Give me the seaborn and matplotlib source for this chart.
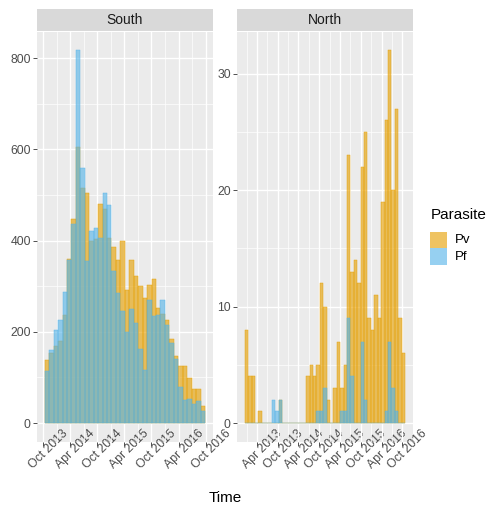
import numpy as np
import pandas as pd
import matplotlib
matplotlib.use("Agg")
import matplotlib.pyplot as plt
import matplotlib.dates as mdates
from matplotlib.colors import to_rgba
from matplotlib.patches import Rectangle
from matplotlib.transforms import ScaledTranslation
import seaborn as sns

# ---------------- data (30-day bins) ----------------
bin_days = 30
south_start = "2013-10-12"
north_start = "2012-12-14"

south_pv = [138, 153, 170, 180, 236, 360, 448, 606, 516, 505, 398, 404, 481, 470, 406, 386, 358, 399,
            291, 358, 323, 300, 275, 302, 315, 253, 238, 227, 185, 147, 125, 125, 98, 74, 74, 38]
south_pf = [114, 160, 203, 227, 288, 358, 437, 817, 560, 355, 420, 428, 406, 505, 479, 333, 284, 245,
            199, 249, 220, 163, 116, 269, 235, 236, 270, 214, 175, 140, 80, 50, 52, 42, 49, 26]

north_pv = [8, 4, 4, 0, 1, 0, 0, 0, 0, 0, 2, 0, 0, 0, 0, 0, 0, 0,
            4, 5, 4, 5, 12, 10, 2, 0, 3, 7, 3, 5, 23, 13, 14, 12, 22, 25, 9, 8, 11, 9, 19, 26, 32, 20, 27, 9, 6]
north_pf = [0, 0, 0, 0, 0, 0, 0, 0, 2, 1, 2, 0, 0, 0, 0, 0, 0, 0,
            0, 0, 0, 1, 1, 3, 0, 0, 0, 0, 1, 1, 9, 4, 0, 0, 7, 2, 0, 0, 0, 0, 0, 1, 7, 3, 1, 0, 0]

south_xticks = ["2013-10-01", "2014-04-01", "2014-10-01", "2015-04-01", "2015-10-01", "2016-04-01", "2016-10-01"]
north_xticks = ["2013-04-01", "2013-10-01", "2014-04-01", "2014-10-01", "2015-04-01", "2015-10-01",
                "2016-04-01", "2016-10-01"]
south_xminor = ["2014-01-01", "2014-07-01", "2015-01-01", "2015-07-01", "2016-01-01", "2016-07-01"]
north_xminor = ["2013-01-01", "2013-07-01", "2014-01-01", "2014-07-01", "2015-01-01", "2015-07-01",
                "2016-01-01", "2016-07-01", "2017-01-01"]
south_yticks = [0, 200, 400, 600, 800]
north_yticks = [0, 10, 20, 30]

parasites = ["Pv", "Pf"]
colors = {"Pv": "#E69F00", "Pf": "#56B4E9"}
ALPHA = 0.62

plt.rcParams["font.family"] = ["Liberation Sans", "DejaVu Sans"]

W, H = 488, 508
fig = plt.figure(figsize=(W / 100, H / 100), dpi=100)


def fx(px):
    return px / W


def fy(py):
    return 1 - py / H


panel_top, panel_bot = 31.7, 441.7
strip_top = 9.0


def make_df(start, pv, pf):
    starts = pd.date_range(start, periods=len(pv), freq=f"{bin_days}D")
    t0 = mdates.date2num(starts[0])
    edges = t0 + bin_days * np.arange(len(pv) + 1)
    centers = (edges[:-1] + edges[1:]) / 2
    frames = []
    for p, vals in (("Pv", pv), ("Pf", pf)):
        frames.append(pd.DataFrame({"Time": centers, "count": vals, "Parasite": p}))
    return pd.concat(frames, ignore_index=True), edges


panels = [
    ("South", 36.7, 213.0, south_start, south_pv, south_pf, south_xticks, south_xminor, south_yticks, 100),
    ("North", 236.7, 413.0, north_start, north_pv, north_pf, north_xticks, north_xminor, north_yticks, 5),
]

shift = ScaledTranslation(5.5 / 100, 0, fig.dpi_scale_trans)

for name, left, right, start, pv, pf, xt, xm, yt, ymin_step in panels:
    df, edges = make_df(start, pv, pf)
    ax = fig.add_axes([fx(left), fy(panel_bot), (right - left) / W, (panel_bot - panel_top) / H])
    ax.set_facecolor("#EBEBEB")
    for s in ax.spines.values():
        s.set_visible(False)
    for p in parasites:
        sub = df[df["Parasite"] == p]
        sns.histplot(data=sub, x="Time", weights="count", bins=[float(e) for e in edges], ax=ax,
                     facecolor=to_rgba(colors[p], ALPHA), edgecolor=to_rgba(colors[p], 0.9),
                     linewidth=0.35)
    span = edges[-1] - edges[0]
    ax.set_xlim(edges[0] - 0.05 * span, edges[-1] + 0.05 * span)
    ymax = max(max(pv), max(pf))
    ax.set_ylim(-0.05 * ymax, 1.05 * ymax)

    xt_num = mdates.date2num(pd.to_datetime(xt))
    ax.set_xticks(xt_num)
    ax.set_xticklabels([pd.Timestamp(d).strftime("%b %Y") for d in xt],
                       rotation=45, ha="center", va="center", rotation_mode="default")
    ax.set_xticks(mdates.date2num(pd.to_datetime(xm)), minor=True)
    ax.set_yticks(yt)
    ax.set_yticklabels([str(v) for v in yt])
    ax.set_yticks(np.arange(ymin_step, ymax * 1.05, 2 * ymin_step), minor=True)

    ax.tick_params(axis="both", which="major", length=2.75, width=0.6, color="#333333",
                   labelcolor="#4D4D4D", labelsize=8.8)
    ax.tick_params(axis="y", which="major", pad=1.5)
    ax.tick_params(axis="x", which="major", pad=3.0)
    ax.tick_params(axis="both", which="minor", length=0)
    for lbl in ax.get_xticklabels():
        lbl.set_transform(lbl.get_transform() + shift)
    ax.grid(which="major", color="white", linewidth=1.0)
    ax.grid(which="minor", color="white", linewidth=0.5)
    ax.set_axisbelow(True)
    ax.set_xlabel("")
    ax.set_ylabel("")

    sax = fig.add_axes([fx(left), fy(panel_top - 0.5), (right - left) / W, (panel_top - 0.5 - strip_top) / H])
    sax.set_facecolor("#D9D9D9")
    sax.set_xticks([])
    sax.set_yticks([])
    for s in sax.spines.values():
        s.set_visible(False)
    sax.text(0.5, 0.5, name, ha="center", va="center", fontsize=10, color="#1A1A1A",
             transform=sax.transAxes)

fig.text(fx(225), fy(497.5), "Time", ha="center", va="center", fontsize=11, color="black")

# legend (ggplot style, drawn in figure pixel coordinates)
fig.text(fx(430.5), fy(215), "Parasite", ha="left", va="center", fontsize=11, color="black")
key_x, key_w, key_h, key_y0 = 430.0, 16.5, 16.7, 231.7
for i, p in enumerate(parasites):
    y_top = key_y0 + i * key_h
    fig.add_artist(Rectangle((fx(key_x), fy(y_top + key_h)), key_w / W, key_h / H,
                             transform=fig.transFigure, facecolor=to_rgba(colors[p], ALPHA),
                             edgecolor="none"))
    fig.text(fx(455), fy(y_top + key_h / 2), p, ha="left", va="center", fontsize=9.5, color="black")

fig.savefig("out.png", dpi=100)
